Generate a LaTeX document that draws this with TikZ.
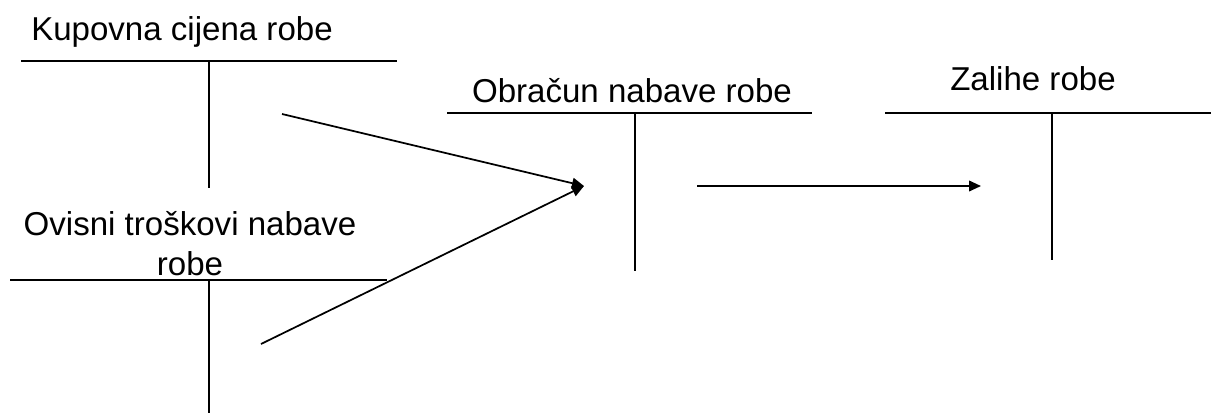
\documentclass[tikz,border=0pt]{standalone}
\usepackage{fontspec}
\setmainfont{Liberation Sans}
\usetikzlibrary{arrows.meta}
\begin{document}
\begin{tikzpicture}[x=0.75pt,y=-0.75pt,
  tline/.style={line width=1.4pt, line cap=butt},
  flow/.style={line width=1.3pt, -{Triangle[length=9pt,width=8pt]}},
  title/.style={font=\fontsize{24.8}{29.3}\selectfont, inner sep=0pt, anchor=base, align=center}]
\useasboundingbox (0,0) rectangle (1211,415);
% account 1
\node[title] (t1) at (182,40) {Kupovna cijena robe};
\coordinate (a1l) at (21,61); \coordinate (a1r) at (397,61);
\coordinate (a1t) at (209,61); \coordinate (a1b) at (209,188);
\draw[tline] (a1l) -- (a1r) (a1t) -- (a1b);
% account 2
\node[title] (t2) at (190,275) {Ovisni troškovi nabave\\robe};
\coordinate (a2l) at (10,280); \coordinate (a2r) at (387,280);
\coordinate (a2t) at (209,280); \coordinate (a2b) at (209,413);
\draw[tline] (a2l) -- (a2r) (a2t) -- (a2b);
% account 3
\node[title] (t3) at (632,102) {Obračun nabave robe};
\coordinate (a3l) at (447,113); \coordinate (a3r) at (812,113);
\coordinate (a3t) at (635,113); \coordinate (a3b) at (635,271);
\draw[tline] (a3l) -- (a3r) (a3t) -- (a3b);
% account 4
\node[title] (t4) at (1033,90) {Zalihe robe};
\coordinate (a4l) at (885,113); \coordinate (a4r) at (1211,113);
\coordinate (a4t) at (1052,113); \coordinate (a4b) at (1052,260);
\draw[tline] (a4l) -- (a4r) (a4t) -- (a4b);
% arrows
\coordinate (s1) at (282,114);
\coordinate (s2) at (261,344);
\coordinate (m) at (584,186);
\coordinate (s3) at (697,186);
\coordinate (e3) at (981,186);
\draw[flow] (s1) -- (m);
\draw[flow] (s2) -- (m);
\draw[flow] (s3) -- (e3);
\end{tikzpicture}
\end{document}
